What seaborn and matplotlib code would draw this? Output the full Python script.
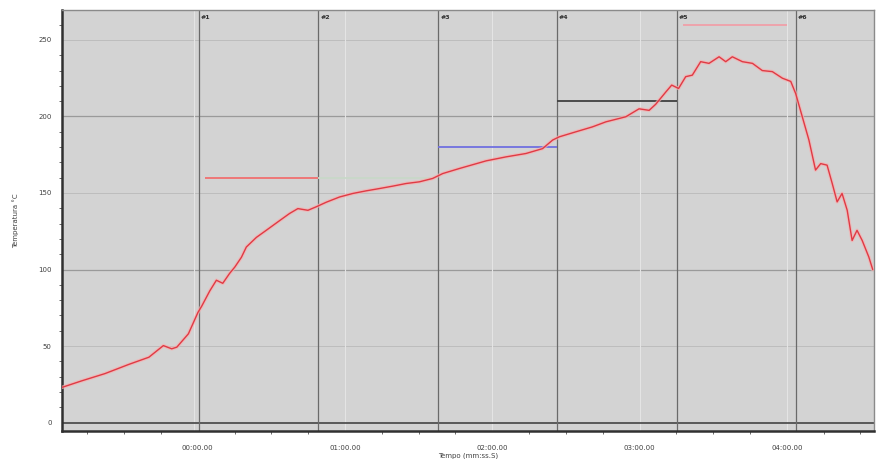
import numpy as np
import pandas as pd
import matplotlib
matplotlib.use("Agg")
import matplotlib.pyplot as plt
from matplotlib.ticker import MultipleLocator
import seaborn as sns

# Temperature log: elapsed time (s) and temperature (°C)
time_s = [-55.3, -47.2, -37.8, -28.1, -19.9, -14.0, -10.6, -8.5, -3.8, 0.1,
          1.6, 4.9, 7.6, 10.2, 13.0, 15.1, 17.8, 19.8, 23.9, 27.9,
          33.4, 37.4, 40.8, 44.9, 48.3, 52.4, 57.8, 63.2, 68.6, 74.0,
          79.5, 84.9, 90.3, 95.7, 99.8, 106.6, 117.5, 125.6, 133.7, 140.5,
          144.6, 147.3, 154.1, 160.8, 166.3, 174.4, 179.8, 183.9, 186.6, 190.7,
          193.1, 195.9, 198.8, 201.5, 204.9, 208.3, 212.4, 215.1, 217.8, 221.9,
          226.0, 230.0, 234.1, 238.2, 241.6, 243.6, 246.3, 249.0, 251.7, 253.8,
          256.4, 258.5, 260.5, 262.5, 264.6, 266.6, 268.6, 270.7, 273.4, 275.0]
temp_c = [23, 27.3, 32, 38, 42.7, 50.3, 48.2, 49.3, 58, 72,
          76, 86, 93, 91, 97.5, 101.6, 108, 114.7, 121, 125.6,
          132, 136.6, 139.8, 138.7, 141, 144, 147.4, 149.7, 151.4, 152.9,
          154.5, 156.2, 157.3, 159.5, 162.7, 166, 171, 173.6, 175.8, 179,
          184.6, 186.7, 190, 193.2, 196.5, 199.8, 205, 204, 208, 216,
          220.5, 218.3, 226, 227, 235.8, 234.7, 239, 235.8, 239, 235.8,
          234.7, 230, 229.3, 225, 222.9, 215, 199.8, 184.6, 165, 169.2,
          168.2, 156.2, 144.2, 149.7, 138.7, 119, 125.6, 119, 108.2, 100]

# Zone markers and their set-point segments
marker_labels = ["#1", "#2", "#3", "#4", "#5", "#6"]
marker_times = [0.4, 49.2, 98.0, 146.4, 195.3, 243.7]
setpoint_values = [160, 160, 180, 210, 260]
setpoint_starts = [3.0, 49.2, 98.0, 146.4, 197.5]
setpoint_ends = [49.2, 95.0, 146.4, 195.3, 240.0]
setpoint_colors = ["#f07070", "#c8d8c8", "#7070e0", "#404040", "#f0a0a8"]

x_tick_values = [0, 60, 120, 180, 240]
x_tick_labels = ["00:00.00", "01:00.00", "02:00.00", "03:00.00", "04:00.00"]
y_tick_values = [0, 50, 100, 150, 200, 250]

sns.set_style("white", {"axes.facecolor": "#d3d3d3"})
plt.rcParams["font.family"] = ["DejaVu Sans"]

fig = plt.figure(figsize=(8.78, 4.59), dpi=100)
ax = fig.add_axes([0.0706, 0.061, 0.9248, 0.917])

# grid: stronger lines at 100 and 200, lighter at the others
for yv in y_tick_values[1:]:
    strong = yv in (100, 200)
    ax.axhline(yv, color="#9a9a9a" if strong else "#bdbdbd",
               lw=0.9 if strong else 0.7, zorder=1)
for xv in x_tick_values:
    ax.axvline(xv if xv else -1.5, color="#e4e4e4", lw=0.8, zorder=1)
ax.axhline(0, color="#505050", lw=1.3, zorder=2)

# zone markers
for t, lab in zip(marker_times, marker_labels):
    ax.axvline(t, color="#6a6a6a", lw=0.9, zorder=2)
    ax.text(t + 0.8, 266.5, lab, fontsize=4.5, fontweight="bold",
            color="#303030", va="top", ha="left")

# set-point segments
for v, a, b, c in zip(setpoint_values, setpoint_starts, setpoint_ends, setpoint_colors):
    ax.plot([a, b], [v, v], color=c, lw=1.3, zorder=3, solid_capstyle="butt")

df = pd.DataFrame({"Tempo": time_s, "Temperatura": temp_c})
sns.lineplot(data=df, x="Tempo", y="Temperatura", ax=ax, color="#f6b0b0",
             lw=2.6, zorder=4, estimator=None, sort=False, alpha=0.7)
sns.lineplot(data=df, x="Tempo", y="Temperatura", ax=ax, color="#e03a44",
             lw=1.0, zorder=5, estimator=None, sort=False)

ax.set_xlim(-55.3, 275.5)
ax.set_ylim(-5.5, 269.5)
ax.set_xticks(x_tick_values)
ax.set_xticklabels(x_tick_labels)
ax.set_yticks(y_tick_values)
ax.xaxis.set_minor_locator(MultipleLocator(15))
ax.yaxis.set_minor_locator(MultipleLocator(10))
ax.tick_params(axis="both", which="major", labelsize=5, color="#404040",
               length=4, width=0.8, labelcolor="#404040", direction="out")
ax.tick_params(axis="y", which="minor", length=2.5, width=0.6, color="#505050", left=True)
ax.tick_params(axis="x", which="minor", length=2.5, width=0.6, color="#505050", bottom=True)
ax.tick_params(axis="x", which="major", pad=6)

ax.set_xlabel("Tempo (mm:ss.S)", fontsize=5, color="#404040", labelpad=1)
ax.set_ylabel("Temperatura °C", fontsize=5, color="#404040", labelpad=14)

for side in ["left", "bottom"]:
    ax.spines[side].set_color("#303030")
    ax.spines[side].set_linewidth(1.8)
for side in ["top", "right"]:
    ax.spines[side].set_visible(True)
    ax.spines[side].set_color("#8a8a8a")
    ax.spines[side].set_linewidth(1.0)

fig.savefig("out.png", dpi=100, facecolor="white")
